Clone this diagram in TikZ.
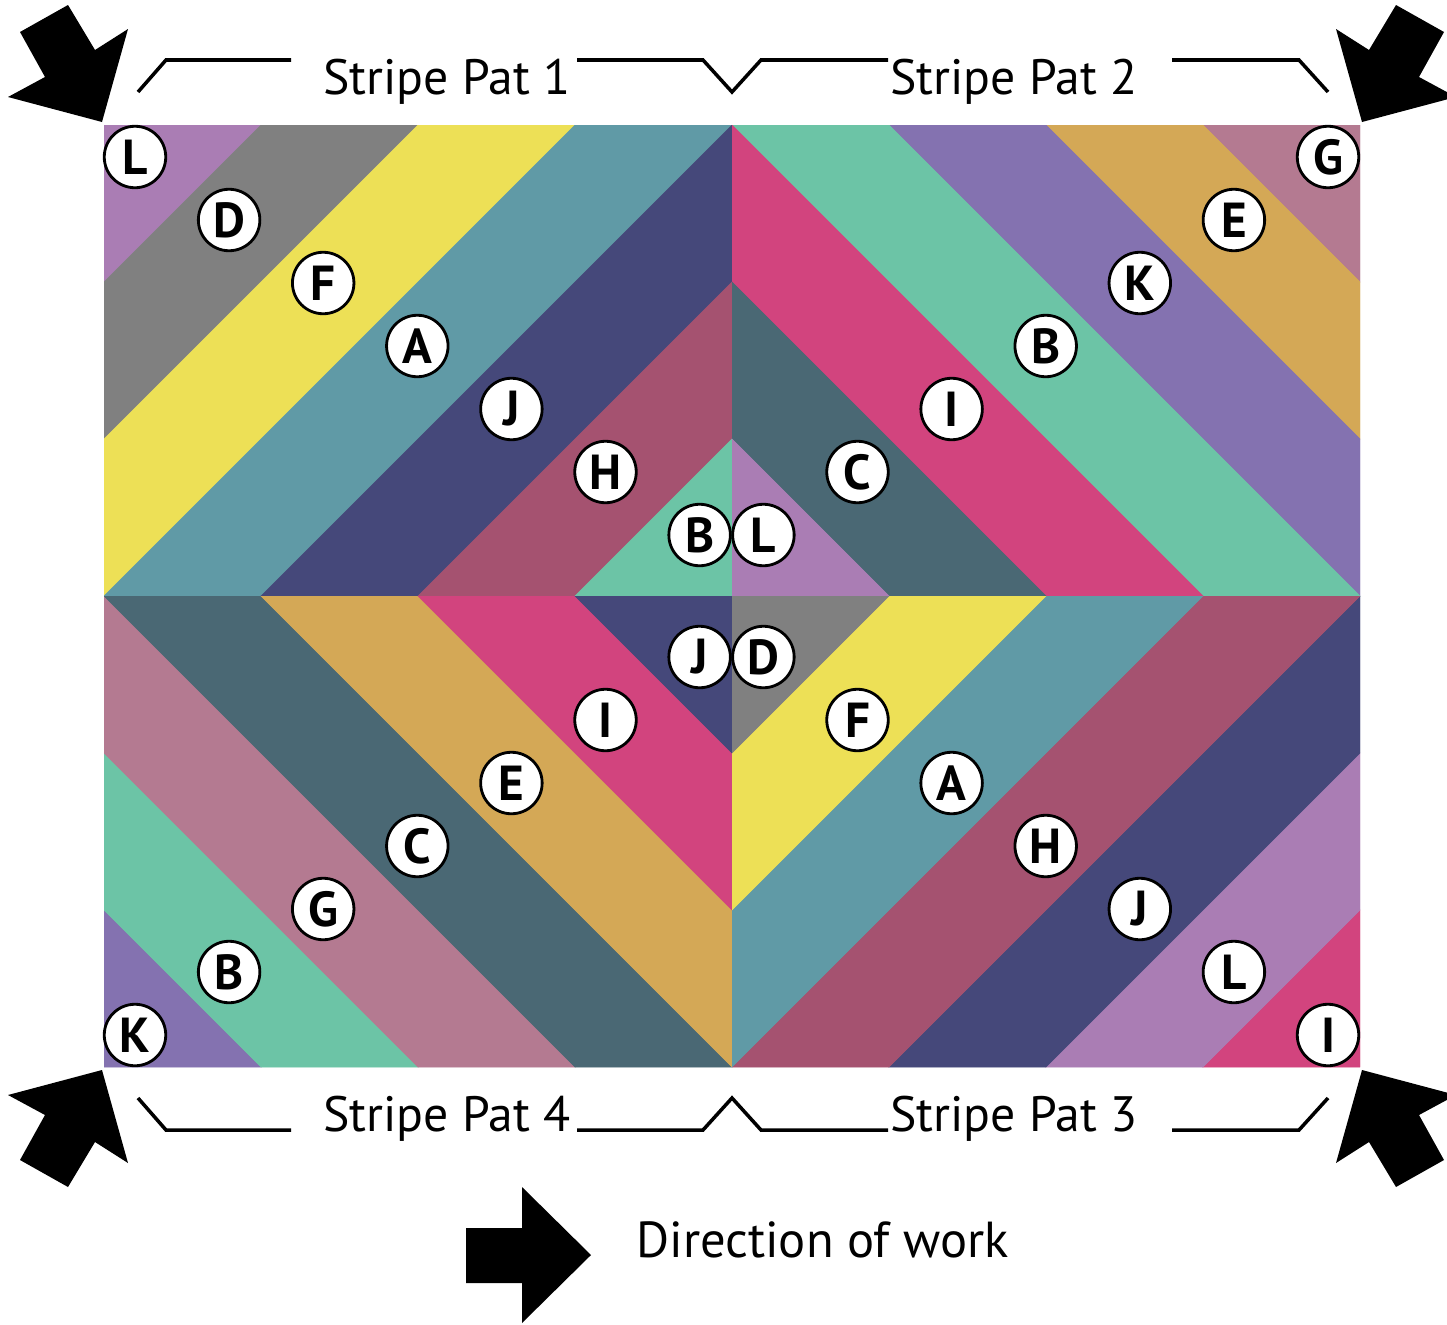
\documentclass[tikz,border=0pt]{standalone}
\usepackage{fontspec}
\setmainfont{PT Sans}
\definecolor{cA}{RGB}{96,154,166}
\definecolor{cB}{RGB}{108,196,166}
\definecolor{cC}{RGB}{74,104,116}
\definecolor{cD}{RGB}{128,128,128}
\definecolor{cE}{RGB}{212,168,86}
\definecolor{cF}{RGB}{237,224,86}
\definecolor{cG}{RGB}{180,122,145}
\definecolor{cH}{RGB}{165,82,112}
\definecolor{cI}{RGB}{210,68,126}
\definecolor{cJ}{RGB}{69,72,122}
\definecolor{cK}{RGB}{132,114,176}
\definecolor{cL}{RGB}{170,125,180}
\newcommand\qstripes[1]{%
  \begin{scope}
    \clip (0,0) rectangle (628,471);
    \foreach \c [count=\k from 0] in {#1} {
      \fill[\c,draw=\c,line width=0.3pt] ({\k*157},0) -- ({(\k+1)*157},0) -- (0,{(\k+1)*157}) -- (0,{\k*157}) -- cycle;
    }
  \end{scope}}
\newcommand\cornerarrow{\fill[black] (102,122) -- (128,29) -- (95,50) -- (68,5) -- (20,32) -- (45,77) -- (8,97) -- cycle;}
\begin{document}
\begin{tikzpicture}[x=0.02cm,y=-0.02cm,
  lbl/.style={circle,draw=black,fill=white,line width=1.6pt,minimum size=35pt,inner sep=0pt,
              font=\fontsize{28}{28}\selectfont\bfseries},
  bracket/.style={line width=2pt,line join=miter},
  pat/.style={anchor=base west,inner sep=0pt,font=\fontsize{28.3}{28.3}\selectfont}]
\useasboundingbox (0,0) rectangle (1447,1325);
\fill[white] (0,0) rectangle (1447,1325);

% stripe quadrants
\begin{scope}[shift={(104,125)}]
  \qstripes{cL,cD,cF,cA,cJ,cH,cB}
\end{scope}
\begin{scope}[shift={(1360,125)},xscale=-1]
  \qstripes{cG,cE,cK,cB,cI,cC,cL}
\end{scope}
\begin{scope}[shift={(104,1067)},yscale=-1]
  \qstripes{cK,cB,cG,cC,cE,cI,cJ}
\end{scope}
\begin{scope}[shift={(1360,1067)},xscale=-1,yscale=-1]
  \qstripes{cI,cL,cJ,cH,cA,cF,cD}
\end{scope}

% letter labels
\foreach \t [count=\i from 0] in {L,D,F,A,J,H,B}
  \node[lbl] (tl\t) at ({135+94.1*\i},{157+63*\i}) {\t};
\foreach \t [count=\i from 0] in {G,E,K,B,I,C,L}
  \node[lbl] (tr\t) at ({1328-94.1*\i},{157+63*\i}) {\t};
\foreach \t [count=\i from 0] in {K,B,G,C,E,I,J}
  \node[lbl] (bl\t) at ({135+94.1*\i},{1035-63*\i}) {\t};
\foreach \t [count=\i from 0] in {I,L,J,H,A,F,D}
  \node[lbl] (br\t) at ({1328-94.1*\i},{1035-63*\i}) {\t};

% corner arrows
\cornerarrow
\begin{scope}[shift={(1464,0)},xscale=-1]\cornerarrow\end{scope}
\begin{scope}[shift={(0,1192)},yscale=-1]\cornerarrow\end{scope}
\begin{scope}[shift={(1464,1192)},xscale=-1,yscale=-1]\cornerarrow\end{scope}

% pattern labels
\node[pat] (p1) at (323,94) {Stripe Pat 1};
\node[pat] (p2) at (890,94) {Stripe Pat 2};
\node[pat] (p4) at (323,1131) {Stripe Pat 4};
\node[pat] (p3) at (890,1131) {Stripe Pat 3};

% brackets
\draw[bracket] (138,92) -- (166,60) -- (291,60);
\draw[bracket] (577,60) -- (703,60) -- (732,92) -- (761,60) -- (888,60);
\draw[bracket] (1172,60) -- (1299,60) -- (1328,92);
\draw[bracket] (138,1098) -- (166,1130) -- (291,1130);
\draw[bracket] (577,1130) -- (703,1130) -- (732,1098) -- (761,1130) -- (888,1130);
\draw[bracket] (1172,1130) -- (1299,1130) -- (1328,1098);

% direction of work
\fill[black] (466,1228) -- (522,1228) -- (522,1187) -- (591,1255) -- (522,1323) -- (522,1283) -- (466,1283) -- cycle;
\node[pat,font=\fontsize{28.8}{28.8}\selectfont] (dir) at (636,1257) {Direction of work};
\end{tikzpicture}
\end{document}
